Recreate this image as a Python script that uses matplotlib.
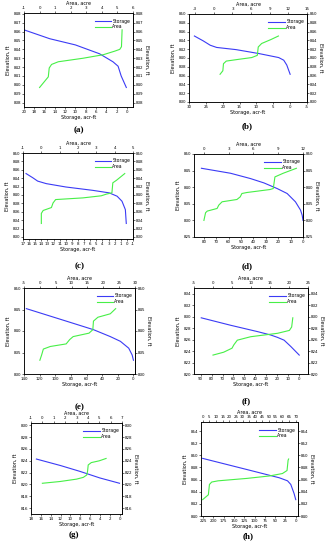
import matplotlib.pyplot as plt

# ---- data (storage in acr-ft, area in acre, elevation in ft) ----
a_storage = [20, 15, 10, 5.3, 2.7, 1.7, 1.1, 0.1]
a_storage_elev = [846.2, 845.2, 844.5, 843.5, 842.6, 842.1, 841.0, 839.7]
a_area = [0, 0.56, 0.62, 0.77, 1.2, 2.8, 4.1, 4.83, 5.15, 5.26, 5.3]
a_area_elev = [839.7, 840.9, 841.9, 842.3, 842.6, 843.0, 843.4, 843.8, 844.0, 844.3, 846.2]

b_storage = [28.4, 25.8, 23.7, 21.8, 16, 9.2, 3.4, 1.9, 1.0, 0]
b_storage_elev = [845.0, 843.9, 842.9, 842.4, 841.9, 841.0, 840.1, 839.5, 838.4, 836.3]
b_area = [1.0, 1.45, 1.55, 2.0, 4.0, 6.1, 7.0, 7.15, 7.7, 9.2, 10.4]
b_area_elev = [836.3, 837.1, 838.7, 839.3, 839.7, 840.1, 840.6, 842.5, 843.3, 844.2, 845.0]

c_storage = [16.5, 15.4, 14.6, 13.2, 10, 5.6, 2.9, 1.6, 0.8, 0.25, 0.1]
c_storage_elev = [845.1, 844.1, 843.3, 842.7, 841.9, 841.1, 840.5, 839.7, 838.5, 836.5, 833.2]
c_area = [0, 0, 0.1, 0.55, 0.64, 0.78, 2.27, 3.27, 3.55, 3.85, 3.9, 4.1, 4.55]
c_area_elev = [833.2, 835.6, 836.3, 837.0, 838.1, 838.9, 839.3, 839.8, 840.2, 840.5, 842.9, 843.5, 845.1]

d_storage = [82, 58.5, 42.4, 31.6, 20.9, 12.8, 6.1, 2.0, 0.7, 0]
d_storage_elev = [845.7, 844.2, 842.6, 841.3, 839.6, 838.1, 835.6, 833.1, 831.6, 830.0]
d_area = [0, 0.2, 0.4, 1.6, 1.8, 2.2, 4.0, 4.4, 4.6, 5.2, 8.0, 8.4, 8.6, 9.6, 11.2]
d_area_elev = [830.0, 832.3, 832.8, 833.6, 834.6, 835.6, 836.3, 837.1, 838.1, 838.4,
               839.3, 839.6, 843.1, 844.2, 845.7]

e_storage = [137, 86, 51, 29.6, 16.7, 6, 1.6, 0]
e_storage_elev = [845.2, 842.3, 840.3, 838.7, 837.6, 836.0, 834.4, 833.2]
e_area = [0, 0.55, 1.1, 3.3, 8.3, 9.4, 10.5, 15.5, 16.7, 16.9, 18.3, 22.2, 23.9]
e_area_elev = [833.2, 834.4, 835.8, 836.4, 837.0, 838.0, 838.7, 839.5, 840.3, 842.3,
               843.2, 844.0, 845.2]

f_storage = [89.4, 62.6, 38.2, 26, 20, 13.8, 7.7, 0]
f_storage_elev = [829.8, 828.5, 827.4, 826.8, 826.4, 825.9, 824.8, 823.3]
f_area = [0, 2.8, 5.0, 5.5, 6.4, 9.9, 17.0, 20.1, 20.7, 21.0]
f_area_elev = [823.3, 823.8, 824.5, 825.1, 825.9, 826.5, 827.1, 827.6, 828.2, 829.8]

g_storage = [16.9, 12, 8, 4, 0]
g_storage_elev = [824.3, 823.2, 822.2, 821.1, 820.2]
g_area = [0, 1.56, 3.0, 3.6, 3.9, 3.97, 4.03, 4.3, 5.0, 5.6]
g_area_elev = [820.2, 820.5, 820.9, 821.2, 821.6, 822.2, 823.3, 823.7, 824.0, 824.4]

h_storage = [226, 115, 39.8, 19.9, 12, 4, 0]
h_storage_elev = [849.5, 847.6, 846.3, 845.8, 845.2, 843.7, 842.7]
h_area = [0, 4.3, 5.1, 6.8, 11.6, 33.3, 50.2, 60.0, 63.5, 64.3, 64.7]
h_area_elev = [842.7, 843.5, 845.2, 845.6, 845.8, 846.2, 846.6, 847.0, 847.5, 849.2, 849.4]

panel_labels = ['(a)', '(b)', '(c)', '(d)', '(e)', '(f)', '(g)', '(h)']

# axes box in pixels (left, top, right, bottom), axis limits and ticks for each panel
panels = [
    dict(data=(a_storage, a_storage_elev, a_area, a_area_elev), box=(24, 13, 133, 107),
         slim=(20, -1.2), sticks=range(20, -1, -2), alim=(-1, 6), aticks=range(-1, 7),
         ylim=(837.5, 848.1), yticks=range(838, 849), lab=(79, 130)),
    dict(data=(b_storage, b_storage_elev, b_area, b_area_elev), box=(189, 14, 307, 102),
         slim=(30, -5), sticks=range(30, -6, -5), alim=(-4, 15), aticks=range(-3, 16, 3),
         ylim=(830, 850), yticks=range(830, 851, 2), lab=(247, 126)),
    dict(data=(c_storage, c_storage_elev, c_area, c_area_elev), box=(23, 153, 133, 239),
         slim=(17, -1), sticks=range(17, -2, -1), alim=(-1, 5), aticks=range(-1, 6),
         ylim=(829.5, 850), yticks=range(830, 851, 2), lab=(80, 266)),
    dict(data=(d_storage, d_storage_elev, d_area, d_area_elev), box=(194, 154, 303, 237),
         slim=(88, 0), sticks=range(80, -1, -10), alim=(-1.2, 12), aticks=range(0, 13, 3),
         ylim=(825, 850), yticks=range(825, 851, 5), lab=(247, 266)),
    dict(data=(e_storage, e_storage_elev, e_area, e_area_elev), box=(24, 288, 135, 374),
         slim=(140, -2), sticks=range(140, -1, -20), alim=(-5, 30), aticks=range(-5, 31, 5),
         ylim=(830, 850), yticks=range(830, 851, 5), lab=(80, 407)),
    dict(data=(f_storage, f_storage_elev, f_area, f_area_elev), box=(194, 288, 308, 374),
         slim=(96, -8), sticks=range(90, -1, -10), alim=(-5, 25), aticks=range(-5, 26, 5),
         ylim=(820, 835), yticks=range(820, 835, 2), lab=(246, 401)),
    dict(data=(g_storage, g_storage_elev, g_area, g_area_elev), box=(31, 423, 122, 514),
         slim=(18, -0.5), sticks=range(18, -1, -2), alim=(-1, 7), aticks=range(-1, 8),
         ylim=(815, 830.4), yticks=range(816, 831, 2), lab=(74, 535)),
    dict(data=(h_storage, h_storage_elev, h_area, h_area_elev), box=(201, 422, 298, 516),
         slim=(230, -5.5), sticks=range(225, -1, -25), alim=(-1.25, 71.75), aticks=range(0, 71, 5),
         ylim=(840, 855.5), yticks=range(840, 855, 2), lab=(248, 536)),
]

W, H = 328, 550
BLUE = '#3b3bf5'
GREEN = '#47ef47'
TICK_FS = 2.9
LABEL_FS = 3.5

plt.rcParams['axes.unicode_minus'] = False

fig = plt.figure(figsize=(W / 100, H / 100), dpi=100)

for p, name in zip(panels, panel_labels):
    s, s_el, a, a_el = p['data']
    l, t, r, b = p['box']
    ax = fig.add_axes([l / W, 1 - b / H, (r - l) / W, (b - t) / H])
    ax.plot(s, s_el, color=BLUE, lw=0.8, label='Storage')
    ax.set_xlim(*p['slim'])
    ax.set_xticks(list(p['sticks']))
    ax.set_ylim(*p['ylim'])
    ax.set_yticks(list(p['yticks']))
    ax.set_xlabel('Storage, acr-ft', fontsize=LABEL_FS, labelpad=1)
    ax.set_ylabel('Elevation, ft', fontsize=LABEL_FS, labelpad=2)
    ax.tick_params(labelsize=TICK_FS, length=1.2, width=0.4, pad=1)

    sec = ax.secondary_yaxis('right')
    sec.set_yticks(list(p['yticks']))
    sec.tick_params(labelsize=TICK_FS, length=1.2, width=0.4, pad=1)
    sec.set_ylabel('Elevation, ft', fontsize=LABEL_FS, rotation=270, labelpad=4)

    ax2 = ax.twiny()
    ax2.plot(a, a_el, color=GREEN, lw=0.8, label='Area')
    ax2.set_xlim(*p['alim'])
    ax2.set_xticks(list(p['aticks']))
    ax2.set_xlabel('Area, acre', fontsize=LABEL_FS, labelpad=1)
    ax2.tick_params(labelsize=TICK_FS, length=1.2, width=0.4, pad=1)

    for a_ in (ax, ax2):
        for sp in a_.spines.values():
            sp.set_linewidth(0.5)
    sec.spines['right'].set_linewidth(0.5)

    h1, l1 = ax.get_legend_handles_labels()
    h2, l2 = ax2.get_legend_handles_labels()
    ax2.legend(h1 + h2, l1 + l2, loc='upper right', bbox_to_anchor=(1.0, 0.97),
               frameon=False, fontsize=TICK_FS + 0.4, handlelength=3.6,
               handletextpad=0.3, labelspacing=0.2, borderaxespad=0.2)

    fig.text(p['lab'][0] / W, 1 - p['lab'][1] / H, name, ha='center', va='center',
             fontsize=6.5, family='Liberation Serif', fontweight='bold')

fig.savefig('out.png', dpi=100)
